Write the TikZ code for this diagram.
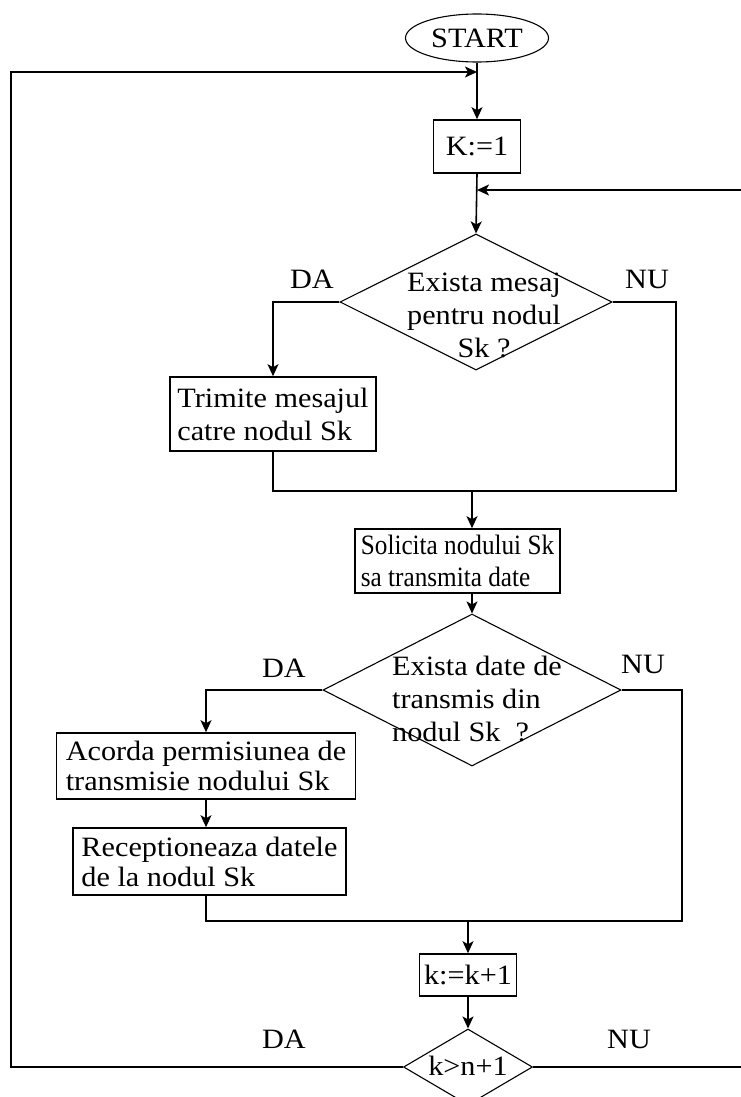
\documentclass[tikz,border=0pt]{standalone}
\usepackage{fontspec}
\setmainfont{Liberation Serif}[FakeStretch=1.08]
\usetikzlibrary{shapes.geometric,arrows.meta}

\begin{document}
\begin{tikzpicture}[x=1pt,y=-1pt,
  every node/.style={font=\fontsize{28}{33}\selectfont},
  line/.style={line width=1.6pt},
  flow/.style={line, -{Stealth[length=12pt,width=11pt,inset=3pt]}},
  box/.style={draw, line width=1.6pt, rectangle, inner sep=0pt, align=left},
  decision/.style={draw, diamond, line width=1.1pt, inner sep=0pt, minimum width=#1},
  term/.style={draw, ellipse, line width=1.1pt, inner sep=0pt},
  tag/.style={inner sep=0pt},
  narrow/.style={font=\fontsize{28}{32}\selectfont\addfontfeatures{FakeStretch=0.9}},
  tight/.style={font=\fontsize{28}{30}\selectfont},
]
\useasboundingbox (0,0) rectangle (740,1097);

% ---- blocks ----
\node[term, minimum width=143pt, minimum height=48pt] (start) at (477,38) {START};
\node[box, minimum width=87pt, minimum height=53pt] (k1) at (477,146.5) {K:=1};

\node[decision=272pt, minimum height=136pt] (d1) at (476,302) {};
\node[align=center, inner sep=0pt] (d1t) at (484,315) {Exista mesaj\\pentru nodul\\Sk ?};

\node[box, minimum width=206pt, minimum height=74pt] (box1) at (273,414) {Trimite mesajul\\catre nodul Sk};

\node[box, narrow, minimum width=205pt, minimum height=64pt] (box2) at (457.5,561) {Solicita nodului Sk\\sa transmita date};

\node[decision=298pt, minimum height=152pt] (d2) at (472,690) {};
\node[align=left, inner sep=0pt, anchor=west] (d2t) at (392,699) {Exista date de\\transmis din\\nodul Sk\ \ ?};

\node[box, tight, minimum width=299pt, minimum height=66pt] (box3) at (206,766) {Acorda permisiunea de\\transmisie nodului Sk};
\node[box, tight, minimum width=273pt, minimum height=67pt] (box4) at (209.5,861.5) {Receptioneaza datele\\de la nodul Sk};

\node[box, minimum width=97pt, minimum height=42pt] (k2) at (468,975) {k:=k+1};
\node[decision=129pt, minimum height=76pt] (d3) at (468,1067) {};
\node[inner sep=0pt] (d3t) at (468,1066) {k>n+1};

% ---- branch labels ----
\node[tag] (da1) at (312,279) {DA};
\node[tag] (nu1) at (647,279) {NU};
\node[tag] (da2) at (284,668) {DA};
\node[tag] (nu2) at (643,664) {NU};
\node[tag] (da3) at (284,1039) {DA};
\node[tag] (nu3) at (629,1039) {NU};

% ---- junction points ----
\coordinate (jtop) at (477,72);
\coordinate (lt) at (11,72);
\coordinate (jright) at (477,190);
\coordinate (rt) at (746,190);
\coordinate (r1) at (676,491);
\coordinate (m1) at (472,491);
\coordinate (r2) at (682,921);
\coordinate (m2) at (468,921);

% ---- connectors ----
\draw[flow] (start.south) -- (k1.north);
\draw[flow] (k1.south) -- (d1.north);
\draw[flow] (d1.west) -| (box1.north);
\draw[line] (box1.south) |- (r1) |- (d1.east);
\draw[flow] (m1) -- (m1 |- box2.north);
\draw[flow] (d2.north |- box2.south) -- (d2.north);
\draw[flow] (d2.west) -| (box3.north);
\draw[flow] (box3.south) -- (box3.south |- box4.north);
\draw[line] (box3.south |- box4.south) |- (r2) |- (d2.east);
\draw[flow] (m2) -- (k2.north);
\draw[flow] (k2.south) -- (d3.north);
\draw[flow] (d3.west) -| (lt) -- (jtop);
\draw[flow] (d3.east) -| (rt) -- (jright);
\end{tikzpicture}
\end{document}
